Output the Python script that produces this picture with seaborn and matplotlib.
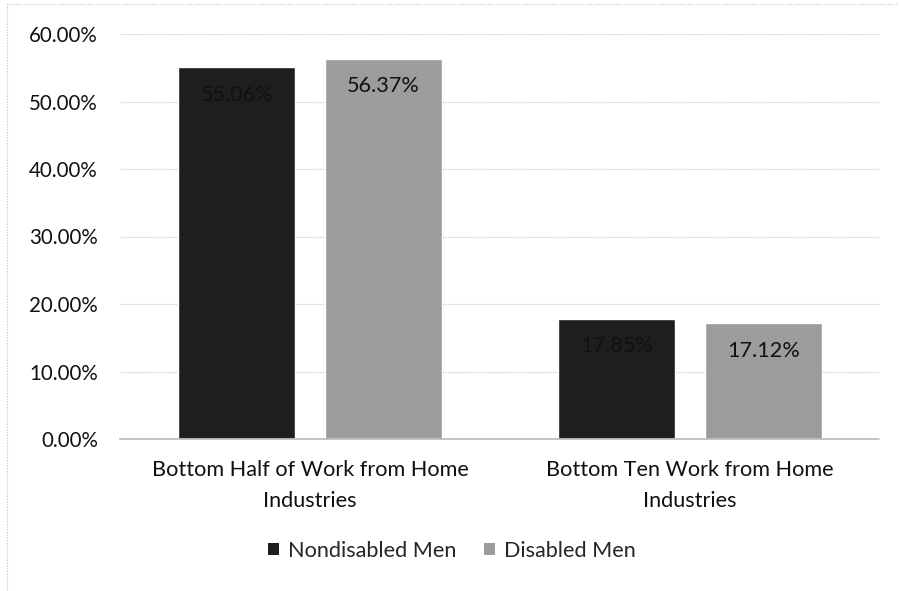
import matplotlib
matplotlib.use("Agg")
import matplotlib.pyplot as plt
from matplotlib.lines import Line2D
from matplotlib.patches import Patch
import seaborn as sns
import pandas as pd

categories = ["Bottom Half of Work from Home\nIndustries",
              "Bottom Ten Work from Home\nIndustries"]
series = ["Nondisabled Men", "Disabled Men"]
nondisabled_men = [0.5506, 0.1785]
disabled_men = [0.5637, 0.1712]
y_ticks = [0.0, 0.1, 0.2, 0.3, 0.4, 0.5, 0.6]

df = pd.DataFrame({
    "category": categories * 2,
    "group": [series[0]] * 2 + [series[1]] * 2,
    "share": nondisabled_men + disabled_men,
})

sns.set_theme(style="white")
plt.rcParams["font.family"] = ["Lato", "DejaVu Sans"]

colors = {series[0]: "#1e1e1e", series[1]: "#9c9c9c"}

fig = plt.figure(figsize=(8.99, 5.91), dpi=100)
ax = fig.add_axes([120 / 899, 1 - 439 / 591, 760 / 899, 405 / 591])

sns.barplot(data=df, x="category", y="share", hue="group", palette=colors,
            width=0.77, gap=0.2, ax=ax, legend=False, saturation=1)

ax.set_ylim(0, 0.6)
ax.set_xlim(-0.5, 1.5)
ax.set_yticks(y_ticks)
ax.set_yticklabels([f"{t * 100:.2f}%" for t in y_ticks], fontsize=14.8, color="#111111")
ax.tick_params(axis="y", length=0, pad=16)
ax.tick_params(axis="x", length=0, pad=15, labelsize=15.6, labelcolor="#111111")
for lbl in ax.get_xticklabels():
    lbl.set_linespacing(1.68)
ax.set_xlabel("")
ax.set_ylabel("")
ax.yaxis.grid(True, color="#c8c8c8", linestyle=(0, (1, 1)), linewidth=0.9)
ax.set_axisbelow(True)
for side in ["left", "right", "top"]:
    ax.spines[side].set_visible(False)
ax.spines["bottom"].set_color("#bdbdbd")
ax.spines["bottom"].set_linestyle((0, (1, 1)))

for cont in ax.containers:
    for bar in cont:
        h = bar.get_height()
        ax.annotate(f"{h * 100:.2f}%", (bar.get_x() + bar.get_width() / 2, h),
                    xytext=(0, -20), textcoords="offset points",
                    ha="center", va="center", fontsize=15.6, color="#111111")

handles = [Patch(facecolor=colors[s], edgecolor="none") for s in series]
fig.legend(handles, series, loc="center", bbox_to_anchor=(452 / 899, 1 - 551 / 591),
           ncol=2, frameon=False, fontsize=15.6, handlelength=0.5, handleheight=0.5,
           handletextpad=0.4, columnspacing=1.3)

# light dotted frame around the chart area
fig.add_artist(Line2D([7 / 899, 7 / 899], [0, 1 - 4 / 591], transform=fig.transFigure,
                      color="#c0c0c0", linestyle=(0, (1, 1.5)), linewidth=0.8))
fig.add_artist(Line2D([7 / 899, 1], [1 - 4 / 591, 1 - 4 / 591], transform=fig.transFigure,
                      color="#c0c0c0", linestyle=(0, (1, 1.5)), linewidth=0.8))

fig.savefig("out.png", dpi=100)
